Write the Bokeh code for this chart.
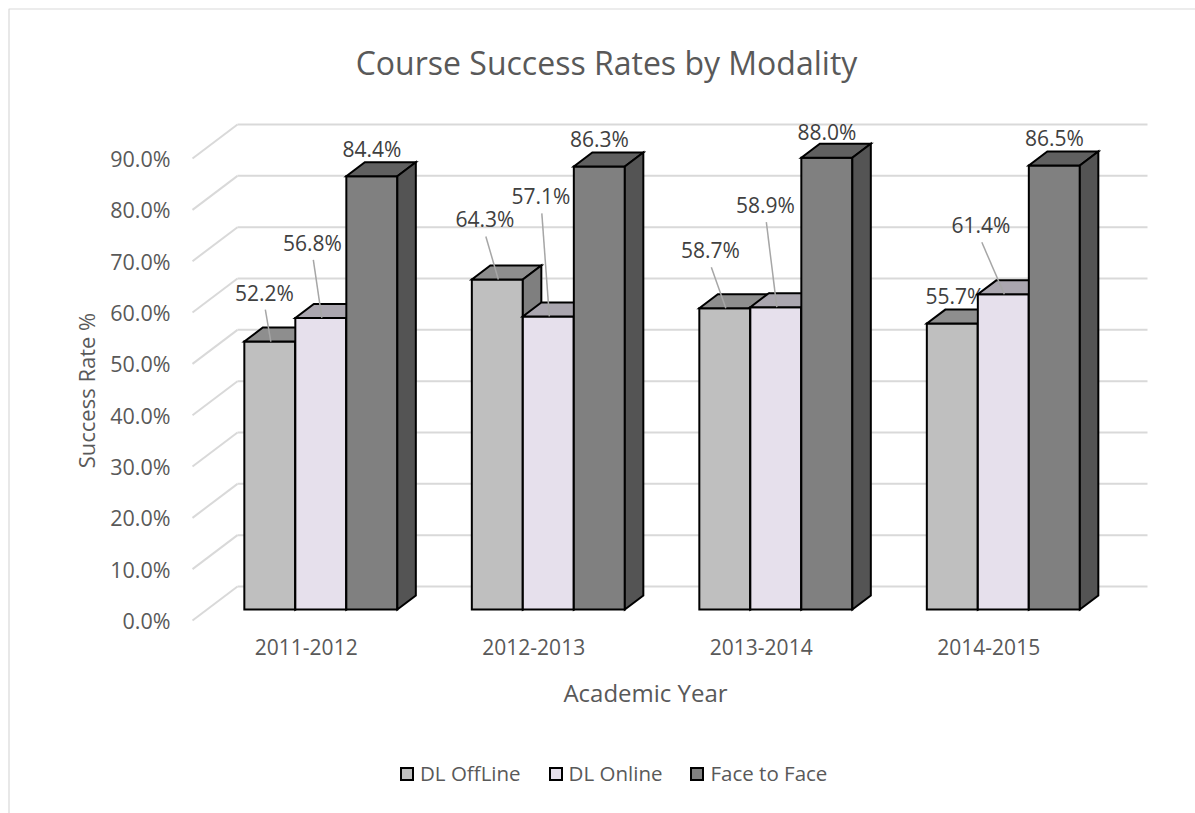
import math
from bokeh.plotting import figure
from bokeh.models import Range1d, FixedTicker, Label, Legend, LegendItem
from bokeh.embed import file_html
from bokeh.resources import INLINE
from bokeh.core.properties import value

# ---------------- data ----------------
categories = ["2011-2012", "2012-2013", "2013-2014", "2014-2015"]
series_names = ["DL OffLine", "DL Online", "Face to Face"]
dl_offline = [52.2, 64.3, 58.7, 55.7]
dl_online = [56.8, 57.1, 58.9, 61.4]
face_to_face = [84.4, 86.3, 88.0, 86.5]
y_ticks = [0, 10, 20, 30, 40, 50, 60, 70, 80, 90]
y_tick_labels = ["0.0%", "10.0%", "20.0%", "30.0%", "40.0%", "50.0%",
                 "60.0%", "70.0%", "80.0%", "90.0%"]
title_text = "Course Success Rates by Modality"
x_title = "Academic Year"
y_title = "Success Rate %"

# ---------------- styles / geometry ----------------
FONT = "Open Sans"
TXT = "#595959"
LBL = "#404040"
GRID = "#D9D9D9"
front_colors = ["#BFBFBF", "#E6E0EC", "#808080"]
top_colors = ["#8E8E8E", "#AAA6AF", "#606060"]
side_colors = ["#7F7F7F", "#99959E", "#545454"]

W, H = 1195, 813
PX_X = 227.5          # pixels per category
PX_Y = 5.133          # pixels per percent
FRONT_LEFT = 192      # canvas px of front plane left edge
ZERO_Y = 620          # canvas px of 0% on front plane
X0 = -FRONT_LEFT / PX_X
X1 = X0 + W / PX_X
Y1 = ZERO_Y / PX_Y
Y0 = Y1 - H / PX_Y


def sx_(px):
    return (px - FRONT_LEFT) / PX_X


def sy_(py):
    return (ZERO_Y - py) / PX_Y


DEPTH_DX = 45 / PX_X
DEPTH_DY = 34 / PX_Y
F1, F2 = 0.324, 0.735
BAR_W = 51 / PX_X

# data label offsets in px relative to bar front-top center (dx, dy down), leader flag
label_offsets = [
    [(-5.5, -49, True), (-12.5, -60, True), (-14.5, -58, True), (2.5, -28, False)],
    [(-8.5, -75, True), (-7.5, -120, True), (-10.5, -102, True), (-22.5, -69, True)],
    [(0, -27, False), (0, -28, False), (0, -26, False), (0, -27, False)],
]

p = figure(width=W, height=H, x_range=Range1d(X0, X1), y_range=Range1d(Y0, Y1),
           output_backend="svg", toolbar_location=None,
           min_border_left=0, min_border_right=0, min_border_top=0, min_border_bottom=0)
p.xgrid.visible = False
p.ygrid.visible = False
p.outline_line_color = None
p.background_fill_color = "white"
p.border_fill_color = "white"

# chart area border
p.quad(left=[sx_(8.5)], right=[X1 + 1], top=[sy_(8.5)], bottom=[Y0 - 1],
       fill_color=None, line_color=GRID, line_width=1.2)

# ---- axes (fixed inside frame) ----
xa = p.xaxis[0]
xa.fixed_location = 0
xa.ticker = FixedTicker(ticks=[i + 0.5 for i in range(len(categories))])
xa.major_label_overrides = {i + 0.5: c for i, c in enumerate(categories)}
xa.axis_line_color = None
xa.major_tick_line_color = None
xa.minor_tick_line_color = None
xa.major_tick_out = 0
xa.major_tick_in = 0
xa.major_label_standoff = 18
xa.major_label_text_font = FONT
xa.major_label_text_font_size = "21px"
xa.major_label_text_color = TXT

ya = p.yaxis[0]
ya.fixed_location = 0
ya.ticker = FixedTicker(ticks=y_ticks)
ya.major_label_overrides = {t: l for t, l in zip(y_ticks, y_tick_labels)}
ya.axis_line_color = None
ya.major_tick_line_color = None
ya.minor_tick_line_color = None
ya.major_tick_out = 0
ya.major_tick_in = 0
ya.major_label_standoff = 22
ya.major_label_text_font = FONT
ya.major_label_text_font_size = "21.5px"
ya.major_label_text_color = TXT

# ---- gridlines: back wall and side wall ----
n = len(categories)
p.segment(x0=[DEPTH_DX] * len(y_ticks), y0=[t + DEPTH_DY for t in y_ticks],
          x1=[n + DEPTH_DX] * len(y_ticks), y1=[t + DEPTH_DY for t in y_ticks],
          line_color=GRID, line_width=2)
p.segment(x0=[0] * len(y_ticks), y0=y_ticks,
          x1=[DEPTH_DX] * len(y_ticks), y1=[t + DEPTH_DY for t in y_ticks],
          line_color=GRID, line_width=2)

# ---- 3D bars ----
all_series = [dl_offline, dl_online, face_to_face]
ddx = (F2 - F1) * DEPTH_DX
ddy = (F2 - F1) * DEPTH_DY
legend_items = []
for j, (name, vals) in enumerate(zip(series_names, all_series)):
    cx = [i + 0.5 + (j - 1) * BAR_W + F1 * DEPTH_DX for i in range(n)]
    left = [c - BAR_W / 2 for c in cx]
    right = [c + BAR_W / 2 for c in cx]
    bottom = [F1 * DEPTH_DY] * n
    top = [v + F1 * DEPTH_DY for v in vals]
    r = p.quad(left=left, right=right, bottom=bottom, top=top,
               fill_color=front_colors[j], line_color="black", line_width=2,
               line_join="miter")
    legend_items.append(LegendItem(label=name, renderers=[r]))
    tx = [[l, rr, rr + ddx, l + ddx] for l, rr in zip(left, right)]
    ty = [[t, t, t + ddy, t + ddy] for t in top]
    p.patches(xs=tx, ys=ty, fill_color=top_colors[j], line_color="black",
              line_width=2, line_join="miter")
    sxs = [[rr, rr + ddx, rr + ddx, rr] for rr in right]
    sys_ = [[b, b + ddy, t + ddy, t] for b, t in zip(bottom, top)]
    p.patches(xs=sxs, ys=sys_, fill_color=side_colors[j], line_color="black",
              line_width=2, line_join="miter")

    # data labels
    lx, ly, lt = [], [], []
    lead_x0, lead_y0, lead_x1, lead_y1 = [], [], [], []
    for i in range(n):
        dxp, dyp, lead = label_offsets[j][i]
        ax, ay = cx[i], top[i]
        txp = ax + dxp / PX_X
        typ = ay - dyp / PX_Y
        lx.append(txp)
        ly.append(typ)
        lt.append(f"{vals[i]:.1f}%")
        if lead:
            lead_x0.append(txp + 1 / PX_X)
            lead_y0.append(typ - 17 / PX_Y)
            lead_x1.append(ax + 1 / PX_X)
            lead_y1.append(ay)
    if lead_x0:
        p.segment(x0=lead_x0, y0=lead_y0, x1=lead_x1, y1=lead_y1,
                  line_color="#A6A6A6", line_width=1.5)
    p.text(x=lx, y=ly, text=lt, text_font=value(FONT), text_font_size="21px",
           text_color=LBL, text_align="center", text_baseline="middle")

# ---- titles ----
p.add_layout(Label(x=sx_(606), y=sy_(62), text=title_text,
                   text_font=FONT, text_font_size="32px", text_color=TXT,
                   text_align="center", text_baseline="middle"))
p.add_layout(Label(x=sx_(645), y=sy_(692), text=x_title,
                   text_font=FONT, text_font_size="24px", text_color=TXT,
                   text_align="center", text_baseline="middle"))
p.add_layout(Label(x=sx_(85), y=sy_(390), text=y_title,
                   text_font=FONT, text_font_size="22px", text_color=TXT,
                   angle=math.pi / 2, text_align="center", text_baseline="middle"))

# ---- legend ----
legend = Legend(items=legend_items, orientation="horizontal", location=(399, 26),
                glyph_width=15, glyph_height=15, label_standoff=6, spacing=27,
                padding=0, margin=0, border_line_color=None, background_fill_alpha=0,
                label_text_font=FONT, label_text_font_size="20.5px",
                label_text_color=TXT, label_height=20)
p.add_layout(legend)

open("out.html", "w").write(file_html(p, INLINE))
